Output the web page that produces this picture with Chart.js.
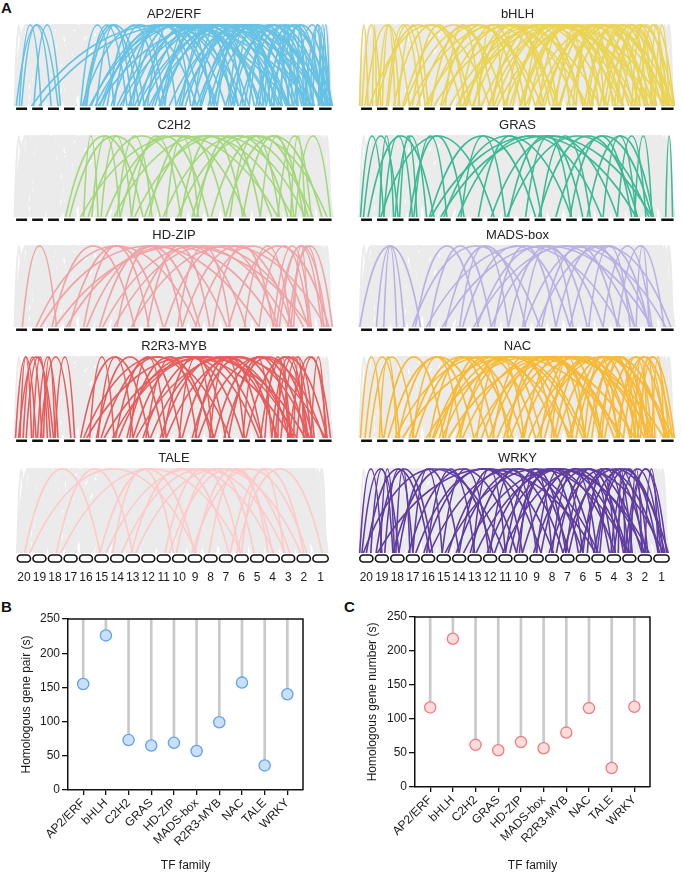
<!DOCTYPE html>
<html>
<head>
<meta charset="utf-8">
<script src="https://cdn.jsdelivr.net/npm/chart.js@4.4.1/dist/chart.umd.min.js"></script>
<style>
  body { margin: 0; background: #fff; }
  #wrap { position: relative; width: 682px; height: 873px; overflow: hidden; font-family: "Liberation Sans", Arial, sans-serif; }
  canvas { position: absolute; }
  .tag { position: absolute; font-weight: bold; font-size: 15px; color: #111; }
</style>
</head>
<body>
<div id="wrap">
  <div class="tag" style="left:1px;top:-1px">A</div>
  <div class="tag" style="left:1px;top:598px">B</div>
  <div class="tag" style="left:344px;top:598px">C</div>
</div>
<script>
// chromosomes, left to right, and their lengths (Mb)
const chrOrder  = [20, 19, 18, 17, 16, 15, 14, 13, 12, 11, 10, 9, 8, 7, 6, 5, 4, 3, 2, 1];
const chrLength = [50, 49, 50, 49, 49, 50, 49, 50, 49, 49, 50, 50, 49, 49, 50, 49, 50, 49, 50, 57];

const families = ['AP2/ERF', 'bHLH', 'C2H2', 'GRAS', 'HD-ZIP', 'MADS-box', 'R2R3-MYB', 'NAC', 'TALE', 'WRKY'];
const familyColors = ['#66c2e4', '#ead453', '#a3d77b', '#3cb995', '#f0a3a6', '#b8b0e4', '#e65c5c', '#f8b935', '#fdc9c9', '#5f3ca0'];

// homologous pairs per family: chromosome.fraction of both genes
const linksAP2 = [
  [20.15, 18.8], [20.5, 18.35], [19.25, 18.95], [20.35, 19.75], [19.1, 3.4], [19.6, 2.8],
  [16.4, 13.9], [16.2, 14.3], [16.5, 12.2], [16.3, 9.5], [16.8, 4.2], [16.6, 13.1], [15.2, 13.4], [15.6, 8.8],
  [15.4, 6.1], [15.9, 11.2], [14.3, 11.5], [14.7, 2.5], [14.1, 7.3], [14.5, 4.8], [13.5, 10.2], [13.2, 5.6],
  [13.8, 1.4], [13.3, 8.6], [12.4, 9.1], [12.7, 3.2], [12.2, 6.8], [12.5, 1.9], [11.5, 8.4], [11.3, 4.6],
  [11.8, 1.7], [10.6, 7.7], [10.2, 2.3], [10.4, 5.1], [10.8, 3.6], [9.3, 6.4], [9.7, 3.8], [9.5, 1.2],
  [9.2, 4.9], [8.6, 4.4], [8.2, 2.1], [8.4, 1.6], [7.5, 5.7], [7.3, 1.6], [7.7, 2.9], [6.8, 3.3],
  [6.2, 1.9], [5.4, 2.6], [5.7, 3.9], [5.2, 1.7], [4.6, 1.3], [4.3, 2.8], [3.6, 1.8], [3.2, 2.4],
  [2.6, 1.5], [2.3, 1.8], [1.6, 1.1], [1.3, 1.75], [15.3, 1.5], [14.9, 9.8], [13.6, 3.1], [12.9, 5.4],
  [11.2, 6.1], [10.5, 1.3], [9.8, 2.6], [8.8, 5.9], [7.9, 4.1], [6.5, 2.2], [5.9, 1.4], [4.8, 3.5],
  [4.1, 1.9], [3.8, 2.2], [2.8, 1.3], [16.9, 6.6], [15.1, 4.3], [13.9, 7.9], [12.1, 2.7], [11.1, 3.3]
];
const linksBHLH = [
  [20.05, 20.6], [20.2, 19.4], [19.2, 18.6], [19.5, 18.3], [19.8, 17.9], [20.4, 17.2], [18.5, 16.4], [19.1, 14.5],
  [20.7, 12.3], [18.2, 13.1], [17.4, 14.8], [17.7, 9.2], [16.6, 12.6], [16.2, 5.3], [15.5, 13.7], [15.3, 7.8],
  [15.8, 2.4], [14.4, 10.6], [14.6, 4.7], [14.2, 1.3], [13.6, 11.2], [13.3, 8.1], [13.8, 3.6], [12.5, 9.7],
  [12.3, 6.2], [12.8, 1.7], [11.4, 8.6], [11.6, 4.3], [11.2, 2.2], [10.5, 7.4], [10.3, 3.1], [10.8, 5.6],
  [9.4, 6.7], [9.6, 2.7], [9.2, 1.5], [8.5, 5.2], [8.3, 3.4], [7.6, 4.1], [7.2, 1.8], [6.5, 3.7],
  [6.3, 2.1], [5.6, 2.9], [5.3, 1.4], [4.4, 2.3], [4.7, 1.6], [3.5, 1.9], [3.3, 2.6], [2.5, 1.2],
  [16.4, 8.7], [14.8, 6.3], [12.6, 4.8], [10.6, 1.9], [8.7, 1.2], [6.7, 1.5], [19.9, 16.2], [18.8, 11.3],
  [17.2, 6.5], [16.8, 2.8], [15.2, 10.3], [14.9, 8.4], [13.2, 5.8], [12.2, 3.3], [11.8, 6.9], [10.2, 4.8],
  [9.8, 3.9], [8.8, 2.3], [7.8, 5.6], [6.8, 2.8], [5.8, 1.9], [4.2, 1.3], [3.8, 1.5], [2.8, 1.6],
  [18.9, 9.6], [20.9, 19.1]
];
const linksC2H2 = [
  [17.25, 12.1], [16.95, 14.7], [17.5, 11.2], [16.4, 15.3], [16.7, 9.4], [16.2, 4.6], [15.5, 13.4], [15.8, 6.6],
  [14.5, 12.7], [14.3, 3.5], [14.7, 8.2], [13.4, 10.5], [13.6, 2.3], [12.5, 7.3], [12.2, 4.2], [11.6, 9.6],
  [11.4, 2.8], [10.5, 6.4], [10.3, 1.6], [9.5, 5.5], [9.2, 3.2], [8.4, 2.5], [7.6, 4.7], [7.3, 1.3],
  [6.4, 2.2], [5.5, 3.6], [4.6, 2.7], [3.4, 2.3], [3.7, 1.8]
];
const linksGRAS = [
  [20.1, 19.6], [20.3, 18.5], [19.3, 18.2], [19.6, 17.4], [20.6, 16.8], [18.6, 17.7], [18.3, 16.3], [17.5, 15.6],
  [19.4, 12.6], [17.2, 14.7], [16.5, 9.2], [16.6, 3.6], [15.4, 7.5], [15.2, 2.6], [14.5, 11.3], [14.3, 5.4],
  [13.6, 9.6], [12.4, 4.4], [11.5, 6.2], [11.4, 2.4], [10.6, 7.5], [9.5, 6.7], [9.4, 3.7], [8.5, 2.6],
  [7.4, 3.3], [6.5, 2.7], [5.5, 3.6], [4.4, 2.2], [3.5, 2.6], [1.4, 1.8]
];
const linksHDZIP = [
  [20.55, 18.7], [19.4, 9.5], [19.7, 5.4], [18.4, 13.6], [18.6, 2.6], [17.5, 11.4], [17.3, 4.5], [16.4, 12.5],
  [16.6, 7.4], [15.4, 9.7], [15.6, 3.3], [14.5, 10.6], [14.3, 2.2], [13.5, 6.6], [13.4, 1.5], [12.4, 8.3],
  [11.5, 4.6], [10.6, 3.5], [10.3, 7.6], [9.4, 2.5], [8.5, 4.3], [7.5, 1.7], [6.5, 3.4], [5.4, 2.6],
  [4.5, 1.6], [4.3, 2.7], [4.7, 1.3], [3.4, 1.4], [3.6, 2.5], [3.2, 1.9]
];
const linksMADS = [
  [20.05, 17.95], [19.1, 18.9], [19.6, 18.4], [17.6, 13.6], [17.4, 9.5], [16.5, 12.4], [16.3, 4.6], [15.5, 10.6],
  [15.3, 2.6], [14.6, 7.4], [14.4, 11.5], [13.5, 5.5], [13.3, 1.4], [12.6, 8.5], [12.4, 3.5], [11.5, 6.5],
  [10.5, 2.5], [10.4, 7.6], [9.6, 4.4], [9.3, 1.7], [8.5, 3.5], [7.4, 2.4], [6.6, 3.2], [5.5, 2.6],
  [4.4, 1.3], [3.6, 2.4]
];
const linksMYB = [
  [20.1, 19.4], [20.3, 18.5], [20.6, 19.8], [19.5, 18.8], [19.2, 18.1], [20.8, 18.3], [18.6, 17.85], [19.7, 17.6],
  [16.2, 12.5], [16.4, 7.6], [16.6, 3.4], [15.3, 13.5], [15.5, 8.6], [15.7, 2.3], [14.4, 10.5], [14.6, 5.4],
  [13.3, 11.6], [13.5, 6.4], [13.7, 1.5], [12.3, 9.5], [12.6, 3.6], [11.4, 7.3], [11.6, 2.6], [10.4, 8.5],
  [10.6, 4.5], [9.4, 5.6], [9.6, 1.4], [8.3, 6.5], [8.6, 2.4], [7.5, 3.5], [6.4, 4.2], [6.6, 1.6],
  [5.5, 2.5], [4.4, 2.7], [3.6, 2.2], [3.3, 1.8], [4.6, 3.2], [2.7, 1.5], [20.4, 19.1], [19.9, 18.6],
  [16.8, 14.3], [15.2, 11.4], [14.2, 3.8], [13.1, 8.4], [12.1, 5.6], [11.2, 4.6], [9.2, 3.3], [7.2, 2.8],
  [4.2, 2.4], [3.8, 1.6], [4.8, 2.9], [5.8, 3.4]
];
const linksNAC = [
  [20.1, 19.5], [20.4, 18.6], [19.3, 18.4], [20.7, 17.5], [19.6, 15.4], [18.5, 13.3], [18.3, 7.5], [17.4, 14.5],
  [17.6, 10.4], [16.5, 12.6], [16.3, 3.5], [15.5, 11.5], [15.3, 6.4], [15.7, 1.3], [14.4, 9.6], [14.6, 4.5],
  [13.5, 10.5], [13.3, 2.6], [12.5, 8.4], [12.3, 5.5], [11.4, 7.6], [11.6, 2.4], [10.5, 6.4], [10.3, 3.3],
  [9.5, 5.4], [9.3, 1.6], [8.4, 4.5], [8.6, 2.7], [7.5, 3.6], [7.3, 1.4], [6.5, 2.5], [6.3, 4.4],
  [5.4, 3.5], [5.6, 1.5], [4.5, 2.6], [4.3, 1.8], [3.5, 2.3], [3.7, 1.6], [2.6, 1.3], [16.7, 8.6],
  [19.9, 12.2], [18.8, 4.8], [17.2, 11.8], [16.8, 6.2], [15.1, 9.2], [14.2, 7.3], [13.8, 4.2], [12.8, 2.1],
  [11.2, 5.3], [10.8, 1.8], [9.8, 3.2], [8.2, 6.3], [7.8, 2.2], [6.8, 3.8], [5.2, 2.2], [4.8, 1.4],
  [3.2, 1.9], [3.9, 2.8]
];
const linksTALE = [
  [20.55, 15.4], [20.9, 9.6], [18.6, 13.5], [18.9, 6.5], [15.4, 9.5], [15.8, 4.6], [14.2, 10.1], [14.8, 3.3],
  [13.4, 7.7], [13.7, 2.3], [11.6, 6.4], [11.9, 3.6], [10.3, 5.3], [9.5, 4.5], [9.3, 2.7], [8.4, 4.2],
  [7.8, 2.5], [6.5, 3.2], [6.2, 1.6]
];
const linksWRKY = [
  [20.05, 19.5], [20.2, 18.6], [19.4, 18.3], [19.7, 17.5], [20.5, 16.6], [18.4, 17.3], [18.6, 14.5], [20.3, 11.4],
  [17.5, 15.4], [17.7, 8.6], [16.4, 13.5], [16.6, 5.5], [15.4, 12.4], [15.6, 3.5], [14.5, 10.6], [14.3, 6.5],
  [13.4, 11.5], [13.6, 2.5], [12.5, 9.5], [12.3, 4.6], [11.5, 7.4], [11.3, 1.6], [10.4, 8.5], [10.6, 3.4],
  [9.5, 6.5], [9.3, 2.3], [8.5, 5.4], [8.3, 1.4], [7.4, 4.4], [7.6, 2.6], [6.5, 3.5], [6.3, 1.7],
  [5.4, 2.4], [5.6, 3.7], [4.5, 1.5], [4.3, 2.7], [3.4, 1.6], [3.6, 2.3], [2.5, 1.3], [19.2, 5.3],
  [20.8, 18.2], [19.1, 16.8], [18.2, 12.7], [17.2, 10.2], [16.2, 9.8], [15.8, 7.2], [14.8, 2.8], [13.2, 7.6],
  [12.8, 3.3], [11.8, 5.2], [10.2, 6.2], [9.8, 4.2], [8.8, 3.1], [7.2, 1.9], [6.8, 4.6], [5.2, 1.3],
  [4.8, 3.2], [3.2, 1.8]
];
const familyLinks = [linksAP2, linksBHLH, linksC2H2, linksGRAS, linksHDZIP, linksMADS, linksMYB, linksNAC, linksTALE, linksWRKY];

// panels B and C
const pairCounts = [155, 226, 73, 65, 69, 57, 99, 157, 36, 140];
const geneCounts = [117, 218, 62, 54, 66, 57, 80, 116, 28, 118];
const yTicks = [0, 50, 100, 150, 200, 250];

Chart.defaults.font.family = '"Liberation Sans", Arial, Helvetica, sans-serif';
Chart.defaults.color = '#1a1a1a';

const GAP = 3;
const chrOffset = {};
let acc = 0;
chrOrder.forEach((c, k) => { chrOffset[c] = acc; acc += chrLength[k] + GAP; });
const genomeLength = acc - GAP;
const lenOf = c => chrLength[chrOrder.indexOf(c)];
function locate(v) {
  const c = Math.floor(v);
  return chrOffset[c] + (v - c) * lenOf(c);
}
const allLinks = familyLinks.flat();

// arcs between gene positions + chromosome strip
const synteny = {
  id: 'synteny',
  beforeDatasetsDraw(chart) {
    const { ctx, chartArea: a, scales: { x, y } } = chart;
    const yb = y.getPixelForValue(0), yt = y.getPixelForValue(1);
    const yc = yb + (yt - yb) / 0.75;
    ctx.save();
    ctx.beginPath();
    ctx.rect(a.left - 3, a.top - 1, a.width + 6, a.height + 1);
    ctx.clip();
    chart.data.datasets.forEach(ds => {
      ctx.strokeStyle = ds.borderColor;
      ctx.lineWidth = ds.borderWidth;
      ds.links.forEach(([p, q]) => {
        const x1 = x.getPixelForValue(locate(p));
        const x2 = x.getPixelForValue(locate(q));
        const w = x2 - x1;
        ctx.beginPath();
        ctx.moveTo(x1, yb);
        ctx.bezierCurveTo(x1 + 0.3 * w, yc, x2 - 0.3 * w, yc, x2, yb);
        ctx.stroke();
      });
    });
    ctx.restore();
  },
  afterDraw(chart, args, opts) {
    const { ctx, chartArea: a, scales: { x } } = chart;
    ctx.save();
    chrOrder.forEach(c => {
      const x1 = x.getPixelForValue(chrOffset[c]);
      const x2 = x.getPixelForValue(chrOffset[c] + lenOf(c));
      if (opts.boxes) {
        ctx.beginPath();
        ctx.roundRect(x1 + 0.8, a.bottom + 2, x2 - x1 - 1.6, 7, 3.5);
        ctx.lineWidth = 1.6;
        ctx.strokeStyle = '#111';
        ctx.stroke();
      } else {
        const inset = (x2 - x1) * 0.14;
        ctx.fillStyle = '#111';
        ctx.fillRect(x1 + inset, a.bottom + 1.5, x2 - x1 - 2 * inset, 3);
      }
    });
    ctx.restore();
  }
};

const wrap = document.getElementById('wrap');
function addCanvas(left, top, w, h) {
  const c = document.createElement('canvas');
  c.width = w; c.height = h;
  c.style.left = left + 'px'; c.style.top = top + 'px';
  c.style.width = w + 'px'; c.style.height = h + 'px';
  wrap.appendChild(c);
  return c;
}

const rowTop = [0, 111, 221, 332, 444];
families.forEach((name, i) => {
  const col = i % 2, row = Math.floor(i / 2);
  const last = row === 4;
  const cv = addCanvas(col * 341, rowTop[row], 341, last ? 142 : 110);
  new Chart(cv, {
    type: 'scatter',
    data: {
      datasets: [
        { data: [], links: allLinks, borderColor: '#ebebeb', borderWidth: 2.2 },
        { data: [], links: familyLinks[i], borderColor: familyColors[i], borderWidth: 1.6 }
      ]
    },
    options: {
      responsive: false,
      animation: false,
      events: [],
      layout: { padding: { left: col ? 18 : 14, right: col ? 6 : 7, top: 0, bottom: last ? 0 : 4 } },
      plugins: {
        legend: { display: false },
        tooltip: { enabled: false },
        title: { display: true, text: name, font: { size: 13, weight: 'normal' }, color: '#222', padding: { top: 7, bottom: 2.4 } },
        synteny: { boxes: last }
      },
      scales: {
        x: {
          type: 'linear', min: 0, max: genomeLength, display: last,
          afterBuildTicks: s => { s.ticks = chrOrder.map(c => ({ value: chrOffset[c] + lenOf(c) / 2 })); },
          ticks: { callback: (v, k) => String(chrOrder[k]), autoSkip: false, maxRotation: 0, font: { size: 12 }, color: '#1a1a1a', padding: 17 },
          grid: { display: false, drawTicks: false },
          border: { display: false },
          afterFit: s => { s.height = last ? 33 : 0; }
        },
        y: { min: 0, max: 1, display: false }
      }
    },
    plugins: [synteny]
  });
});

// frame on top and right of lollipop plots
const frame = {
  id: 'frame',
  afterDraw(chart) {
    const { ctx, chartArea: a } = chart;
    ctx.save();
    ctx.strokeStyle = '#111';
    ctx.lineWidth = 1.5;
    ctx.beginPath();
    ctx.moveTo(a.left, a.top);
    ctx.lineTo(a.right, a.top);
    ctx.lineTo(a.right, a.bottom);
    ctx.stroke();
    ctx.restore();
  }
};

function lollipop(left, values, yTitle, fill, stroke, geo) {
  const cv = addCanvas(left, 595, 341, 278);
  new Chart(cv, {
    type: 'scatter',
    data: {
      datasets: [
        {
          type: 'bar',
          data: values.map((v, i) => ({ x: i, y: [v, 250] })),
          backgroundColor: '#c9c9c9', borderWidth: 0, barThickness: 2, order: 2
        },
        {
          type: 'scatter',
          data: values.map((v, i) => ({ x: i, y: v })),
          pointRadius: 5.6, backgroundColor: fill, borderColor: stroke, borderWidth: 1.3, order: 1
        }
      ]
    },
    options: {
      responsive: false,
      animation: false,
      events: [],
      layout: { padding: { left: 0, right: geo.right, top: geo.top, bottom: 0 } },
      plugins: { legend: { display: false }, tooltip: { enabled: false } },
      scales: {
        x: {
          type: 'linear', min: -0.67, max: 9.69, offset: false,
          afterBuildTicks: s => { s.ticks = families.map((f, i) => ({ value: i })); },
          ticks: { callback: (v, k) => families[k], autoSkip: false, minRotation: 45, maxRotation: 45, font: { size: 12 }, color: '#1a1a1a', padding: 1 },
          grid: { offset: false, drawOnChartArea: false, tickLength: 5, color: '#111', lineWidth: 1.3 },
          border: { color: '#111', width: 1.5 },
          title: { display: true, text: 'TF family', font: { size: 12 }, color: '#1a1a1a', padding: { top: 0, bottom: 0 } },
          afterFit: s => { s.height = geo.xh; }
        },
        y: {
          min: 0, max: 250,
          afterBuildTicks: s => { s.ticks = yTicks.map(v => ({ value: v })); },
          ticks: { font: { size: 12 }, color: '#1a1a1a', padding: 2 },
          grid: { drawOnChartArea: false, tickLength: 6, color: '#111', lineWidth: 1.3 },
          border: { color: '#111', width: 1.5 },
          title: { display: true, text: yTitle, font: { size: 12 }, color: '#1a1a1a', padding: { top: geo.tp, bottom: 0 } },
          afterFit: s => { s.width = geo.yw; }
        }
      }
    },
    plugins: [frame]
  });
}

lollipop(0, pairCounts, 'Homologous gene pair (s)', '#cadff9', '#5ea2ee', { right: 38, top: 24, xh: 83, yw: 68, tp: 19.5 });
lollipop(341, geneCounts, 'Homologous gene number (s)', '#fbdcdc', '#f07c7c', { right: 32, top: 22, xh: 86, yw: 74, tp: 24.5 });
</script>
</body>
</html>
